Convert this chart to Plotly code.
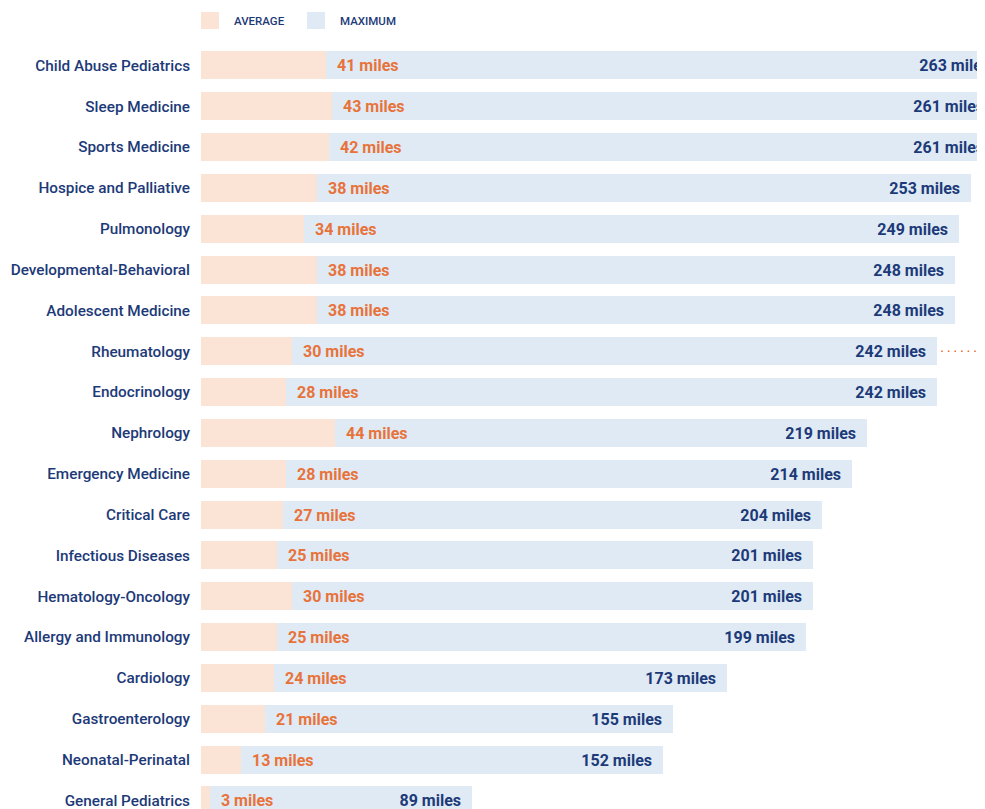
import plotly.graph_objects as go

specialties = [
    "Child Abuse Pediatrics", "Sleep Medicine", "Sports Medicine", "Hospice and Palliative",
    "Pulmonology", "Developmental-Behavioral", "Adolescent Medicine", "Rheumatology",
    "Endocrinology", "Nephrology", "Emergency Medicine", "Critical Care",
    "Infectious Diseases", "Hematology-Oncology", "Allergy and Immunology", "Cardiology",
    "Gastroenterology", "Neonatal-Perinatal", "General Pediatrics",
]
average_miles = [41, 43, 42, 38, 34, 38, 38, 30, 28, 44, 28, 27, 25, 30, 25, 24, 21, 13, 3]
maximum_miles = [263, 261, 261, 253, 249, 248, 248, 242, 242, 219, 214, 204, 201, 201, 199, 173, 155, 152, 89]

NAVY = "#1d3a78"
ORANGE = "#e8733a"
PEACH = "#fbe4d6"
BLUE = "#dfeaf5"
FONT = "Roboto"
NB = "\u00a0"

fig = go.Figure()
fig.add_trace(go.Bar(
    y=specialties, x=maximum_miles, orientation="h", name="MAXIMUM",
    marker=dict(color=BLUE, line=dict(width=0)), width=0.686,
    text=[f"{v} miles" + NB * 2 for v in maximum_miles],
    textposition="inside", insidetextanchor="end", textangle=0, constraintext="none",
    insidetextfont=dict(family=FONT, size=16, color=NAVY, weight="bold"),
    hoverinfo="skip", showlegend=False, cliponaxis=True,
))
fig.add_trace(go.Bar(
    y=specialties, x=average_miles, orientation="h", name="AVERAGE",
    marker=dict(color=PEACH, line=dict(width=0)), width=0.686,
    text=[NB * 2 + f"{v} miles" for v in average_miles],
    textposition="outside", textangle=0, constraintext="none",
    outsidetextfont=dict(family=FONT, size=16, color=ORANGE, weight="bold"),
    hoverinfo="skip", showlegend=False, cliponaxis=True,
))

# dotted callout line next to Rheumatology
fig.add_shape(type="line", xref="x", yref="y", x0=243.3, x1=262, y0="Rheumatology", y1="Rheumatology",
              line=dict(color=ORANGE, width=1.6, dash="1.6px,5px"))

# custom legend
for x0, label, col in [(0, "AVERAGE", PEACH), (106, "MAXIMUM", BLUE)]:
    fig.add_shape(type="rect", xref="paper", yref="paper", xsizemode="pixel", ysizemode="pixel",
                  xanchor=0, yanchor=1, x0=x0, x1=x0 + 18, y0=16, y1=33,
                  fillcolor=col, line=dict(width=0), layer="above")
    fig.add_annotation(xref="paper", yref="paper", x=0, y=1, xshift=x0 + 31, yshift=24.5,
                       xanchor="left", yanchor="middle", text=label, showarrow=False,
                       font=dict(family=FONT, size=11.5, color=NAVY, weight=500))

fig.update_layout(
    width=977, height=801,
    margin=dict(l=193, r=0, t=37, b=0),
    barmode="overlay", bargap=0,
    paper_bgcolor="white", plot_bgcolor="white",
    showlegend=False,
    font=dict(family=FONT, color=NAVY),
    xaxis=dict(range=[0, 257.7], showgrid=False, zeroline=False, showticklabels=False,
               showline=False, fixedrange=True),
    yaxis=dict(type="category", categoryorder="array", categoryarray=specialties,
               range=[18.21, -0.5], autorange=False, showgrid=False, zeroline=False,
               showline=False, ticks="", ticklabelstandoff=10,
               tickfont=dict(family=FONT, size=15.3, color=NAVY, weight=500)),
)

fig.write_html("out.html")
